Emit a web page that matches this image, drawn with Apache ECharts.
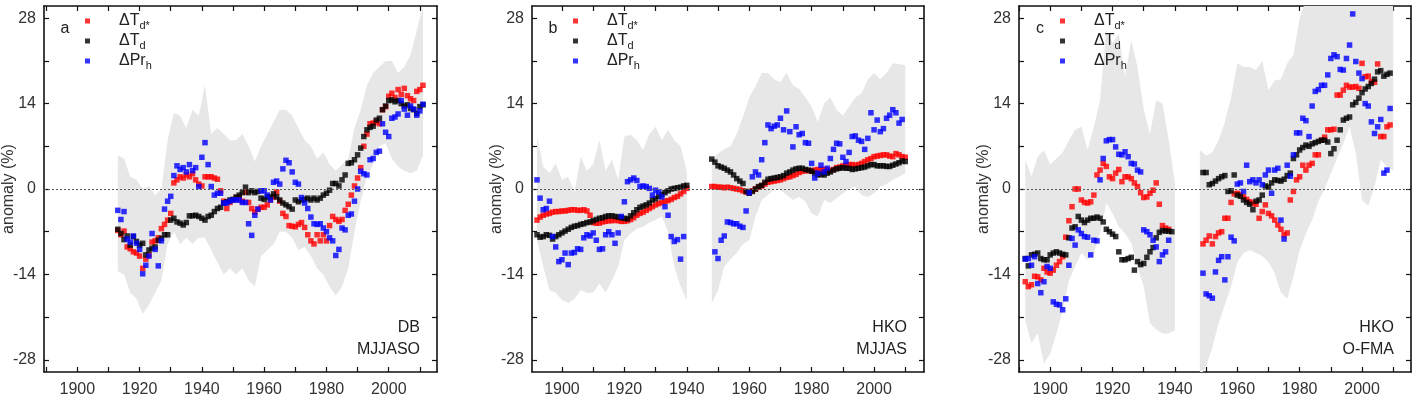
<!DOCTYPE html>
<html>
<head>
<meta charset="utf-8">
<script src="https://cdn.jsdelivr.net/npm/echarts@6/dist/echarts.min.js"></script>
<style>
  html, body { margin: 0; padding: 0; background: #fff; }
  #chart { width: 1420px; height: 405px; }
</style>
</head>
<body>
<div id="chart"></div>
<script>
// axis ticks / labels
const xLabels = [1900, 1920, 1940, 1960, 1980, 2000];
const xTicks = [1890, 1900, 1910, 1920, 1930, 1940, 1950, 1960, 1970, 1980, 1990, 2000, 2010];
const yLabels = [-28, -14, 0, 14, 28];
const yTicks = [-28, -21, -14, -7, 0, 7, 14, 21, 28];

// panel a : DB, MJJASO  (one value per year from aStart)
const aStart = 1913;
const aRed = [-6.8, -7.5, -6.9, -9.5, -9.8, -10.3, -10.5, -11, -13, -11.5,
  -10.8, -8.7, -8.5, -8, -6.5, -5.8, -5.1, -4, 1, 1.5,
  2, 1.8, 2.3, 2, 2.5, 1.5, 0.8, 0.5, 2, 2,
  2, 1.8, 1.6, -0.3, -2, -3.2, -2.2, -1.8, -1.5, -1.3,
  -2, -0.5, -2.2, -3.2, -3.8, -3.3, -3, -3, -2.6, -1.8,
  -1.3, -0.5, -2, -4, -4.5, -6, -6.1, -6.2, -5.8, -5.5,
  -6.3, -7.5, -8.5, -9, -7.5, -8.5, -7.5, -8.5, -6, -4.5,
  -5, -5.3, -5, -3.5, -2.5, -1, 0.5, 1.8, 3.5, 7,
  9, 10.7, 10.8, 11, 10.7, 13, 13.5, 15.2, 15.7, 15,
  16.3, 15.5, 16.5, 15.3, 14.8, 14.5, 16, 16.3, 17];
const aBlack = [-6.6, -7.3, -8.3, -7.7, -9.2, -7.8, -8.6, -9.2, -8.9, -10.8,
  -10, -9.7, -9.5, -8.4, -8.1, -7.5, -7.5, -5.1, -4.8, -5.4,
  -5.6, -5.9, -5.5, -4.4, -4.4, -4.3, -4.5, -4.8, -5.1, -4.5,
  -4.3, -3.7, -3.2, -3, -2.3, -2.1, -1.8, -1.7, -1.3, -1,
  -0.6, 0.3, -0.6, -0.3, -0.6, -0.4, -1.5, -1.7, -1.3, -1.3,
  -0.8, -1.3, -1.8, -2.3, -2.6, -2.9, -3.3, -1.8, -2.1, -1.8,
  -1.7, -1.5, -1.8, -1.5, -1.8, -1.5, -1, -0.7, -0.2, 0.9,
  0.9, 0.5, 1.5, 2.3, 4.2, 4.3, 4.8, 5.6, 6.7, 8.6,
  9.7, 10.1, 10.3, 11.3, 11.6, 13, 13.6, 14.5, 14.6, 14.3,
  14.5, 14, 13.6, 13.8, 13.2, 13, 12.4, 13.5, 13.8];
const aBlue = [-3.5, -5, -3.7, -8.2, -8.7, -7.7, -8.9, -9.9, -13.9, -12.5,
  -11, -7.3, -9.9, -12.6, -8.5, -3.3, -2, -1.2, 2.2, 3.8,
  3.2, 3.5, 2.8, 4, 3, 3.5, 0.4, 5.2, 7.6, 4,
  0.4, -1, -0.7, -0.7, -2.3, -2.3, -2, -1.8, -1.8, -1.8,
  -2.2, -2.2, -5.7, -7.6, -4.3, -3.3, -0.3, -0.3, -1, -1.8,
  1.1, 1.3, 0.8, 3.3, 4.7, 4.3, 2.8, 1.1, 0.8, -1.4,
  -2.3, -3.2, -4.6, -5.7, -5.8, -5.7, -6.4, -7, -8, -8.5,
  -10.9, -9.9, -6.4, -6.7, -4.3, -4.1, -2, 0, 2.9, 2.5,
  2.3, 4.8, 5, 6, 6.2, 10.7, 9.3, 8.6, 11.6, 11.8,
  12.3, 14.5, 13.1, 12.1, 13.6, 13.1, 12.1, 12.8, 13.9];
const aBandYears = [1913, 1915, 1917, 1919, 1921, 1923, 1925, 1927, 1929, 1931,
  1933, 1935, 1937, 1939, 1941, 1943, 1945, 1947, 1949, 1951,
  1953, 1955, 1957, 1959, 1961, 1963, 1965, 1967, 1969, 1971,
  1973, 1975, 1977, 1979, 1981, 1983, 1985, 1987, 1989, 1991,
  1993, 1995, 1997, 1999, 2001, 2003, 2005, 2007, 2009, 2011];
const aBandHi = [5.5, 5, 2, 1.5, 0, 0.5, -1, 0, 8, 12.5,
  12, 10, 13, 12, 17, 9, 10, 9, 8, 8,
  9, 7, 4.5, 7, 9, 11, 13, 13, 12, 10,
  8, 7, 5, 6, 4, 3, 4, 5, 10, 13,
  17, 19, 20, 21, 21, 19, 20, 22, 26, 30];
const aBandLo = [-13.5, -14, -17, -18, -20.5, -19, -17, -15, -9, -7,
  -9, -8, -9, -8, -8, -10, -12, -14, -13, -14,
  -13, -15, -16, -11, -10, -9, -7, -7, -8, -10,
  -9.5, -11, -13, -14, -16, -17.5, -16, -13, -7, -2,
  2, 4, 7, 7.5, 5, 3.7, 3, 2.6, 3, 5.5];

// panel b : HKO, MJJAS
const bStart = 1892;
const bRed = [-5.1, -4.6, -4.3, -4.1, -4, -3.8, -3.7, -3.7, -3.6, -3.6,
  -3.5, -3.4, -3.4, -3.5, -3.5, -3.4, -3.6, -4.3, -5.5, -5.6,
  -5.6, -5.4, -5.3, -5.2, -5.2, -5.1, -5.2, -5.3, -5.3, -5.2,
  -5, -4.7, -4.3, -4, -3.8, -3.5, -3.2, -2.9, -2.6, -2.4,
  -2.2, -2, -1.9, -1.7, -1.4, -1.2, -0.8, -0.4, 0.1,
  null, null, null, null, null, null, null,
  0.4, 0.4, 0.3, 0.3, 0.2, 0.3, 0.2, 0.1, 0, -0.1,
  -0.3, -0.5, -0.6, -0.3, 0, 0.3, 0.5, 0.8, 1.1, 1.2,
  1.3, 1.4, 1.5, 1.7, 1.9, 2, 2.2, 2.4, 2.7, 2.9,
  3, 3, 3, 3.1, 3.2, 3.2, 3.2, 3.1, 3, 3.2,
  3.5, 3.6, 3.8, 3.9, 4, 4, 3.9, 4, 4.2, 4.5,
  4.8, 5, 5.3, 5.4, 5.5, 5.6, 5.6, 5.4, 5.3, 5.8,
  5.6, 5.3, 5.2];
const bBlack = [-7.5, -7.9, -7.8, -7.5, -7.6, -8.2, -7.8, -7.5, -7.2, -6.9,
  -6.6, -6.3, -6.1, -6, -5.8, -5.7, -5.5, -5.4, -5.2, -5,
  -4.8, -4.7, -4.5, -4.4, -4.4, -4.5, -4.6, -4.7, -4.8, -4.9,
  -4.4, -3.9, -3.4, -3, -2.8, -2.6, -2.3, -1.8, -1.6, -1.2,
  -0.9, -0.6, -0.3, 0, 0.1, 0.2, 0.3, 0.5, 0.6,
  null, null, null, null, null, null, null,
  4.9, 4.4, 3.8, 3.6, 3.4, 3.1, 2.8, 2.3, 1.7, 1.3,
  0.9, -0.4, -0.7, -0.4, 0, 0.4, 0.6, 1.1, 1.6, 1.7,
  1.8, 1.9, 2, 2.2, 2.6, 2.8, 3.1, 3.3, 3.4, 3.4,
  3.2, 3.1, 2.9, 2.6, 2.3, 2.4, 2.3, 2.6, 2.8, 3.1,
  3.3, 3.4, 3.5, 3.4, 3.4, 3.2, 3.3, 3.4, 3.5, 3.6,
  3.8, 4, 4, 3.8, 3.8, 3.8, 3.7, 3.7, 3.9, 4.1,
  4.3, 4.6, 4.5];
const bBlue = [1.5, -1.5, -3.4, -3.2, -2, -7.8, -9.5, -11.9, -11.6, -10.5,
  -12.4, -10.5, -10.4, -9.8, -9.9, -8, -7.5, -7.7, -7.2, -8.4,
  -9.9, -9.8, -7.5, -7, -7.5, -8.9, -7.2, -4.5, -2.1, 1.2,
  1.5, 1.8, 1.4, 0.4, 0.5, 0.4, 0.1, -1, -0.2, -0.5,
  -1.3, -2.9, -4.3, -7.8, -8.6, -8.3, -11.5, -7.8,
  null, null, null, null, null, null, null, null, null,
  -10.3, -11.4, -8.4, -7.7, -5.4, -5.5, -5.7, -5.7, -6.1, -6.3,
  -3.6, -0.6,
  2, 2.8, 2.3, 4.8, 7.6, 10.5, 9.9, 10.3, 10.5, 11.6,
  9.7, 12.8, 9.4, 6.9, 10.2, 8.9, 9.1, 7.6, 7.5, 4.2,
  1.8, 2.6, 3.9, 2.8, 3.4, 5, 6.5, 7.5, 7.4, 5.2,
  4.5, 6, 8.6, 8.7, 8, 7.8, 6.5, 8.3, 12.5, 9.7,
  11.3, 9.4, 9.9, 11.6, 12.1, 13, 12.5, 10.8, 11.4];
const bBandYears = [1892, 1894, 1896, 1898, 1900, 1902, 1904, 1906, 1908, 1910,
  1912, 1914, 1916, 1918, 1920, 1922, 1924, 1926, 1928, 1930,
  1932, 1934, 1936, 1938, 1940, 1944,
  1948, 1950, 1952, 1954, 1956, 1958, 1960, 1962, 1964, 1966,
  1968, 1970, 1972, 1974, 1976, 1978, 1980, 1982, 1984, 1986,
  1988, 1990, 1992, 1994, 1996, 1998, 2000, 2002, 2004, 2006,
  2008, 2010];
const bBandHi = [8.6, 3.7, 2.6, 4.2, 1.5, 2, -0.5, 5.3, 3, 4,
  8, 3, 4.8, 1.5, 8.6, 8.9, 8, 6.4, 9, 10.2,
  8, 9.7, 8, 7, 3, null,
  4.8, 5.8, 6.5, 7, 9, 11.9, 15, 16.8, 19, 19,
  18, 17.5, 19, 17, 16.4, 15, 13.5, 11, 14, 15,
  13, 12, 13.5, 15, 15.7, 18, 19, 18, 19, 20.6,
  20.5, 20.3];
const bBandLo = [-8.4, -12.7, -16.6, -17, -18.2, -18.7, -18, -16.6, -17, -17,
  -15.5, -17, -15, -12.7, -8.4, -7.3, -6.5, -6.2, -5.5, -5.1,
  -4.5, -7, -12.7, -16, -18.2, null,
  -18.7, -16.6, -12.7, -11.5, -10.5, -9, -8.4, -4.5, -1.8, -1,
  0, -0.2, -1, -1.8, -1.3, -2, -4, -4.5, -1.8, -2.3,
  -1.5, -0.7, 0, 0.4, -1, -1.3, -0.7, 0.4, 0.8, 1.5,
  2, 2.6];

// panel c : HKO, O-FMA
const cStart = 1892;
const cRed = [-15.2, -16, -15.7, -14.3, -14.4, -14.9, -13, -13.6, -13.8, -13.3,
  -12.5, -11.9, -11.1, -7.9, -5.2, -2.9, 0, 0, -1.8, -2.2,
  -2.3, -2.1, -1, 2.3, 3.1, 4.2, 3.7, 2, 1.7, 2.6,
  3.2, 1.2, 2, 2, 1.7, 1, 0.4, -0.6, -1.4, -1.3,
  -0.7, -0.2, 1, -2.5, -6, -6.4, -6.6,
  null, null, null, null, null, null, null, null, null, null,
  -9, -8.4, -7.7, -9, -7.8, -7.2, -7, -4.8, -4.8, -2.2,
  -0.8, -0.7, -0.9, -1.3, -1.7, -2.1, -2.3, -2.5, -4.8, -3.7,
  -2.6, -4, -4.4, -5.1, -5.9, -6.6, -7.5, -7.2, -1.8, -0.4,
  1.5, 2, 3.9, 3.1, 3.9, 4.2, 5.6, 5.6, 8, 8.5,
  9.7, 9.7, 9.8, 15.4, 15.4, 16.2, 17, 16.7, 16.7, 16.8,
  16.5, 20.6, 18.4, 18.5, 17.6, 17.5, 20.5, 8.6, 8.6, 10.2,
  10.5];
const cBlack = [-11.4, -12.6, -10.8, -10.7, -10.5, -11.4, -11.6, -11.6, -10.8, -10.5,
  -10.3, -10.5, -10.7, -10.8, -8, -6.4, -6.2, -4.5, -5.1, -5.5,
  -5.1, -4.8, -4.8, -4.6, -4.8, -5.4, -6.6, -7, -7.4, -7.8,
  -10.3, -11.6, -11.6, -11.4, -11.2, -13.3, -11.9, -12.4, -12.2, -11.2,
  -10.3, -9.6, -8, -7.1, -6.8, -6.9, -6.9, -7,
  null, null, null, null, null, null, null, null, null,
  2.7, 2.7, 0.7, 0.9, 1.3, 1.7, 2, 2.2, -0.4, -0.3,
  2.3, -1, -1.2, -1.8, -2.2, -2.5, -3.4, -2, -1.8, -1,
  0.5, 0.3, 1, 1.5, 1.4, 1.3, 1.6, 2.2, 2.6, 5,
  5.6, 6.4, 6.8, 7.2, 7, 7.4, 7.6, 7.8, 8, 8,
  7.7, 5.8, 6.6, 8, 9.7, 11.3, 11.6, 11.8, 13.8, 14.2,
  14.9, 15.8, 16.4, 16.8, 17.3, 18, 19.2, 19.4, 18.5, 18.8,
  19];
const cBlue = [-11.5, -11.4, -12.5, -11.1, -15.5, -17, -15.2, -12.7, -13, -18.5,
  -18.9, -19, -19.8, -18, -12.5, -8.1, -9.2, -6.7, -7.3, -7.8,
  -7.9, -10.8, -8.4, -8.5, 1.5, 5, 7.9, 8.1, 8.1, 6.9,
  5.7, 5.6, 6.1, 5.3, 4.2, 4.1, 3.1, 2.8, -6.7, -7,
  -7.5, -8.4, -9.5, -11.9, -10.8, -10.3, -8.4,
  null, null, null, null, null, null, null, null, null, null,
  -13.8, -17.2, -17.5, -17.9, -13.6, -11.7, -11.1, -14.9, -11.1, -7.9,
  -8.5, 0.8, 1, -0.4, 3.9, 1.2, 1.5, 1, 1.5, 0.7,
  2.3, 3.1, -0.7, 3.1, 3.4, -5.1, -8.2, 3.9, 2.1, 5.6,
  9.2, 9.2, 11.6, 11.2, 8.6, 13.6, 16, 16.3, 17, 17,
  18.7, 21.4, 22, 21.7, 19.6, 19.5, 21.4, 23.6, 28.7, 20.9,
  19, 18.1, 14, 13.6, 11, 9.1, 10.2, 11.4, 2.6, 3.1,
  13.2];
const cBandYears = [1892, 1894, 1896, 1898, 1900, 1902, 1904, 1906, 1908, 1910,
  1912, 1914, 1916, 1918, 1920, 1922, 1924, 1926, 1928, 1930,
  1932, 1934, 1936, 1938, 1940, 1944,
  1948, 1950, 1952, 1954, 1956, 1958, 1960, 1962, 1964, 1966,
  1968, 1970, 1972, 1974, 1976, 1978, 1980, 1982, 1984, 1986,
  1988, 1990, 1992, 1994, 1996, 1998, 2000, 2002, 2004, 2006,
  2008, 2010];
const cBandHi = [4.8, 2, 5.3, 6.4, 4, 5, 6, 8, 9.7, 10.2,
  6.4, 10.2, 14.6, 26, 23.9, 25.5, 18.4, 24.4, 20, 13,
  9, 14.6, 14, 8, 1, null,
  6.4, 5.5, 6, 8, 11, 15, 20.6, 20, 20, 19.5,
  21, 16.2, 17.8, 18, 20.6, 22, 28, 31, 32, 32,
  32, 32, 32, 32, 32, 32, 32, 32, 32, 32,
  32, 32];
const cBandLo = [-21.5, -25.3, -23.7, -28.6, -27, -23.7, -20, -15, -12.7, -10.5,
  -11.6, -10.5, -7.3, -2.3, -4, -6.2, -7.3, -8.9, -12.7, -16,
  -22, -23, -23.7, -23.7, -23.1, null,
  -31, -29, -26, -22, -19, -16, -12, -10.5, -10, -10.5,
  -11, -12, -13.8, -17, -18, -14.4, -10, -7.3, -5.1, -2,
  0, 2.6, 5, 7.5, 10.2, 5.8, -1.8, -2.8, 0.4, 4.8,
  3.7, 3];

const FONT = '"Liberation Sans", Arial, Helvetica, sans-serif';
const TXT = '#333';

const panels = [
  { left: 44, width: 393, xMin: 1889.3, xMax: 2015.5, letter: 'a', station: 'DB', season: 'MJJASO',
    start: aStart, red: aRed, black: aBlack, blue: aBlue, bandYears: aBandYears, hi: aBandHi, lo: aBandLo },
  { left: 532, width: 392, xMin: 1890.4, xMax: 2016, letter: 'b', station: 'HKO', season: 'MJJAS',
    start: bStart, red: bRed, black: bBlack, blue: bBlue, bandYears: bBandYears, hi: bBandHi, lo: bBandLo },
  { left: 1019, width: 392, xMin: 1890, xMax: 2015.7, letter: 'c', station: 'HKO', season: 'O-FMA',
    start: cStart, red: cRed, black: cBlack, blue: cBlue, bandYears: cBandYears, hi: cBandHi, lo: cBandLo }
];

function toPoints(start, vals) {
  const out = [];
  vals.forEach((v, i) => { if (v !== null) out.push([start + i, v]); });
  return out;
}

// split a band into runs of consecutive non-null entries
function bandRuns(hi) {
  const runs = [];
  let cur = [];
  hi.forEach((v, k) => {
    if (v === null) { if (cur.length) runs.push(cur); cur = []; }
    else cur.push(k);
  });
  if (cur.length) runs.push(cur);
  return runs;
}

const frame = { show: true, onZero: false, lineStyle: { color: '#111', width: 1.6 } };
const tickStyle = { color: '#111', width: 1.2 };

const grid = [], xAxis = [], yAxis = [], series = [], legend = [], graphic = [];

const legendNames = {
  'Td*': '{g| }{m|ΔT}{s|d*}',
  'Td': '{g| }{m|ΔT}{s|d}',
  'Prh': '{g| }{m|ΔPr}{s|h}'
};

panels.forEach((p, i) => {
  grid.push({ left: p.left, top: 6, width: p.width, height: 366, outerBoundsMode: 'none' });
  const xt = xTicks.filter(t => t >= p.xMin && t <= p.xMax);
  xAxis.push({
    gridIndex: i, type: 'value', min: p.xMin, max: p.xMax, position: 'bottom',
    axisLine: frame, splitLine: { show: false },
    axisTick: { show: true, inside: true, length: 5, customValues: xt, lineStyle: tickStyle },
    axisLabel: { customValues: xLabels, margin: 10, fontSize: 16, fontFamily: FONT, color: TXT,
      formatter: v => String(v) }
  });
  xAxis.push({
    gridIndex: i, type: 'value', min: p.xMin, max: p.xMax, position: 'top',
    axisLine: frame, splitLine: { show: false }, axisLabel: { show: false },
    axisTick: { show: true, inside: true, length: 5, customValues: xt, lineStyle: tickStyle }
  });
  yAxis.push({
    gridIndex: i, type: 'value', min: -30, max: 30, position: 'left',
    name: 'anomaly (%)', nameLocation: 'middle', nameGap: 27, nameMoveOverlap: false,
    nameTextStyle: { fontSize: 16, fontFamily: FONT, color: TXT },
    axisLine: frame, splitLine: { show: false },
    axisTick: { show: true, inside: true, length: 5, customValues: yTicks, lineStyle: tickStyle },
    axisLabel: { customValues: yLabels, margin: 8, fontSize: 16, fontFamily: FONT, color: TXT }
  });
  yAxis.push({
    gridIndex: i, type: 'value', min: -30, max: 30, position: 'right',
    axisLine: frame, splitLine: { show: false }, axisLabel: { show: false },
    axisTick: { show: true, inside: true, length: 5, customValues: yTicks, lineStyle: tickStyle }
  });

  const ax = { xAxisIndex: 2 * i, yAxisIndex: 2 * i };

  // grey uncertainty band, one polygon per continuous run
  const runs = bandRuns(p.hi);
  series.push(Object.assign({
    type: 'custom', silent: true, z: 1,
    data: runs.map((r, j) => [p.bandYears[r[0]], j]),
    encode: { x: 0 },
    renderItem: (params, api) => {
      const r = runs[params.dataIndex];
      const pts = [];
      r.forEach(k => pts.push(api.coord([p.bandYears[k], p.hi[k]])));
      r.slice().reverse().forEach(k => pts.push(api.coord([p.bandYears[k], p.lo[k]])));
      const cs = params.coordSys;
      return {
        type: 'group',
        clipPath: { type: 'rect', shape: { x: cs.x, y: cs.y, width: cs.width, height: cs.height } },
        children: [{ type: 'polygon', shape: { points: pts }, style: { fill: '#e7e7e7' } }]
      };
    }
  }, ax));

  const dot = { type: 'scatter', symbol: 'rect', symbolSize: 5.5, silent: true, z: 3 };
  series.push(Object.assign({}, dot, ax, {
    name: 'Td*', itemStyle: { color: '#ff0000' }, data: toPoints(p.start, p.red),
    markLine: {
      silent: true, symbol: 'none', label: { show: false },
      lineStyle: { color: '#555', type: [2, 2], width: 1 },
      data: [{ yAxis: 0 }]
    }
  }));
  series.push(Object.assign({}, dot, ax, {
    name: 'Td', itemStyle: { color: '#000000' }, data: toPoints(p.start, p.black)
  }));
  series.push(Object.assign({}, dot, ax, {
    name: 'Prh', itemStyle: { color: '#0000ff' }, data: toPoints(p.start, p.blue)
  }));

  legend.push({
    data: ['Td*', 'Td', 'Prh'], orient: 'vertical', left: p.left + 41, top: 13,
    icon: 'rect', itemWidth: 5, itemHeight: 5, itemGap: 2, padding: 0, selectedMode: false,
    formatter: n => legendNames[n],
    textStyle: {
      color: '#222', fontFamily: FONT, fontSize: 16,
      rich: {
        g: { width: 24 },
        m: { fontSize: 16, lineHeight: 20, fontFamily: FONT, color: '#222' },
        s: { fontSize: 11, lineHeight: 8, verticalAlign: 'bottom', fontFamily: FONT, color: '#222' }
      }
    }
  });

  graphic.push({ type: 'text', x: p.left + 21, y: 29,
    style: { text: p.letter, font: '16px ' + FONT, fill: '#222', align: 'center', verticalAlign: 'middle' } });
  graphic.push({ type: 'text', x: p.left + p.width - 17, y: 328,
    style: { text: p.station, font: '16px ' + FONT, fill: '#222', align: 'right', verticalAlign: 'middle' } });
  graphic.push({ type: 'text', x: p.left + p.width - 17, y: 350,
    style: { text: p.season, font: '16px ' + FONT, fill: '#222', align: 'right', verticalAlign: 'middle' } });
});

const chart = echarts.init(document.getElementById('chart'));
chart.setOption({
  backgroundColor: '#ffffff',
  animation: false,
  grid: grid,
  xAxis: xAxis,
  yAxis: yAxis,
  legend: legend,
  graphic: graphic,
  series: series
});
</script>
</body>
</html>
